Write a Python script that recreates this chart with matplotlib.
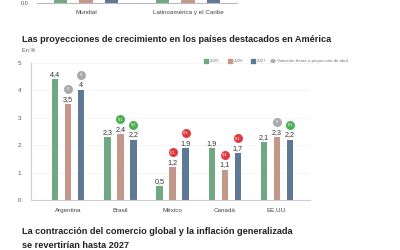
import numpy as np
import matplotlib.pyplot as plt

plt.rcParams['font.family'] = ['Liberation Sans', 'DejaVu Sans']

# data
paises = ['Argentina', 'Brasil', 'México', 'Canadá', 'EE.UU.']
v2025 = [4.4, 2.3, 0.5, 1.9, 2.1]
v2026 = [3.5, 2.4, 1.2, 1.1, 2.3]
v2027 = [4.0, 2.2, 1.9, 1.7, 2.2]
# variation vs April projection (2026, 2027)
var2026 = [0.0, 0.1, -0.1, -0.4, 0.0]
var2027 = [0.0, 0.2, -0.3, -0.1, 0.1]

top_groups = ['Mundial', 'Latinoamérica y el Caribe']
top_vals = [[3.0, 3.0], [3.0, 3.0], [3.0, 3.0]]

c25, c26, c27 = '#6fa882', '#c4978b', '#5f7896'
years = ['2025', '2026', '2027']
cols = [c25, c26, c27]

def fmt(v):
    s = ('%.1f' % v).replace('.', ',')
    return s[:-2] if s.endswith(',0') else s

def badge_col(v):
    if v > 0:
        return '#4caf50'
    if v < 0:
        return '#e0393e'
    return '#aaaaaa'

fig = plt.figure(figsize=(4, 2.5), dpi=100)

# bottom of previous chart
axt = fig.add_axes([37/400, 1-3/250, 200/400, 0.2])
xt = np.arange(len(top_groups))
for i, vals in enumerate(top_vals):
    axt.bar(xt + (i-1)*0.25, vals, width=0.13, color=cols[i])
axt.set_xlim(-0.48, 1.48)
axt.set_ylim(0, 1)
for s in ['top', 'right', 'left']:
    axt.spines[s].set_visible(False)
axt.spines['bottom'].set_color('#bbbbbb')
axt.set_yticks([])
axt.set_xticks(xt)
axt.set_xticklabels(top_groups, fontsize=4.5, color='#444444')
axt.tick_params(axis='x', length=0, pad=5)
fig.text(29/400, 1-3/250, '0,0', fontsize=4, color='#555555', ha='right', va='center')

# titles
fig.text(22/400, 1-40/250, 'Las proyecciones de crecimiento en los países destacados en América',
         fontsize=6.6, fontweight='bold', color='#222222', va='center')
fig.text(22/400, 1-50/250, 'En %', fontsize=4, color='#555555', va='center')

# legend
lx = [204, 228, 251]
for x, y, c in zip(lx, years, cols):
    fig.patches.append(plt.Rectangle((x/400, 1-63/250), 4/400, 4/250, color=c,
                                     transform=fig.transFigure))
    fig.text((x+6)/400, 1-61/250, y, fontsize=3.2, color='#777777', va='center')
fig.patches.append(plt.Circle((273/400, 1-61/250), 0.005, color='#aaaaaa',
                              transform=fig.transFigure))
fig.text(277/400, 1-61/250, 'Variación frente a proyección de abril',
         fontsize=3.2, color='#777777', va='center')

# main chart
ax = fig.add_axes([31/400, 50/250, 279/400, 137/250])
x = np.arange(len(paises))
w = 0.125
series = [v2025, v2026, v2027]
for i, vals in enumerate(series):
    xs = x + (i-1)*0.25
    ax.bar(xs, vals, width=w, color=cols[i], zorder=2)
    for xx, v in zip(xs, vals):
        ax.text(xx, v + 0.05, fmt(v), ha='center', va='bottom', fontsize=5.2,
                color='#333333', clip_on=False)
for i, var in [(1, var2026), (2, var2027)]:
    vals = series[i]
    xs = x + (i-1)*0.25
    for xx, v, d in zip(xs, vals, var):
        ax.scatter(xx, v + 0.55, s=42, color=badge_col(d), zorder=3, clip_on=False,
                   linewidths=0)
        ax.text(xx, v + 0.55, fmt(abs(d)), ha='center', va='center', fontsize=2.8,
                color='white', zorder=4, clip_on=False)

ax.set_xlim(-0.71, 4.63)
ax.set_ylim(0, 5)
ax.set_yticks([0, 1, 2, 3, 4, 5])
ax.set_yticklabels(['0', '1', '2', '3', '4', '5'])
ax.tick_params(axis='y', length=0, labelsize=4.5, labelcolor='#555555', pad=7)
ax.set_xticks(x)
ax.set_xticklabels(paises)
ax.tick_params(axis='x', length=0, labelsize=4.5, labelcolor='#444444', pad=6)
ax.grid(axis='y', color='#f2f2f2', linewidth=0.5, zorder=0)
for s in ['top', 'right']:
    ax.spines[s].set_visible(False)
ax.spines['left'].set_color('#cccccc')
ax.spines['bottom'].set_color('#cccccc')

# next title
fig.text(22/400, 1-232/250, 'La contracción del comercio global y la inflación generalizada',
         fontsize=6.55, fontweight='bold', color='#222222', va='center')
fig.text(22/400, 1-245/250, 'se revertirían hasta 2027',
         fontsize=6.55, fontweight='bold', color='#222222', va='center')

fig.savefig('out.png', dpi=100)
